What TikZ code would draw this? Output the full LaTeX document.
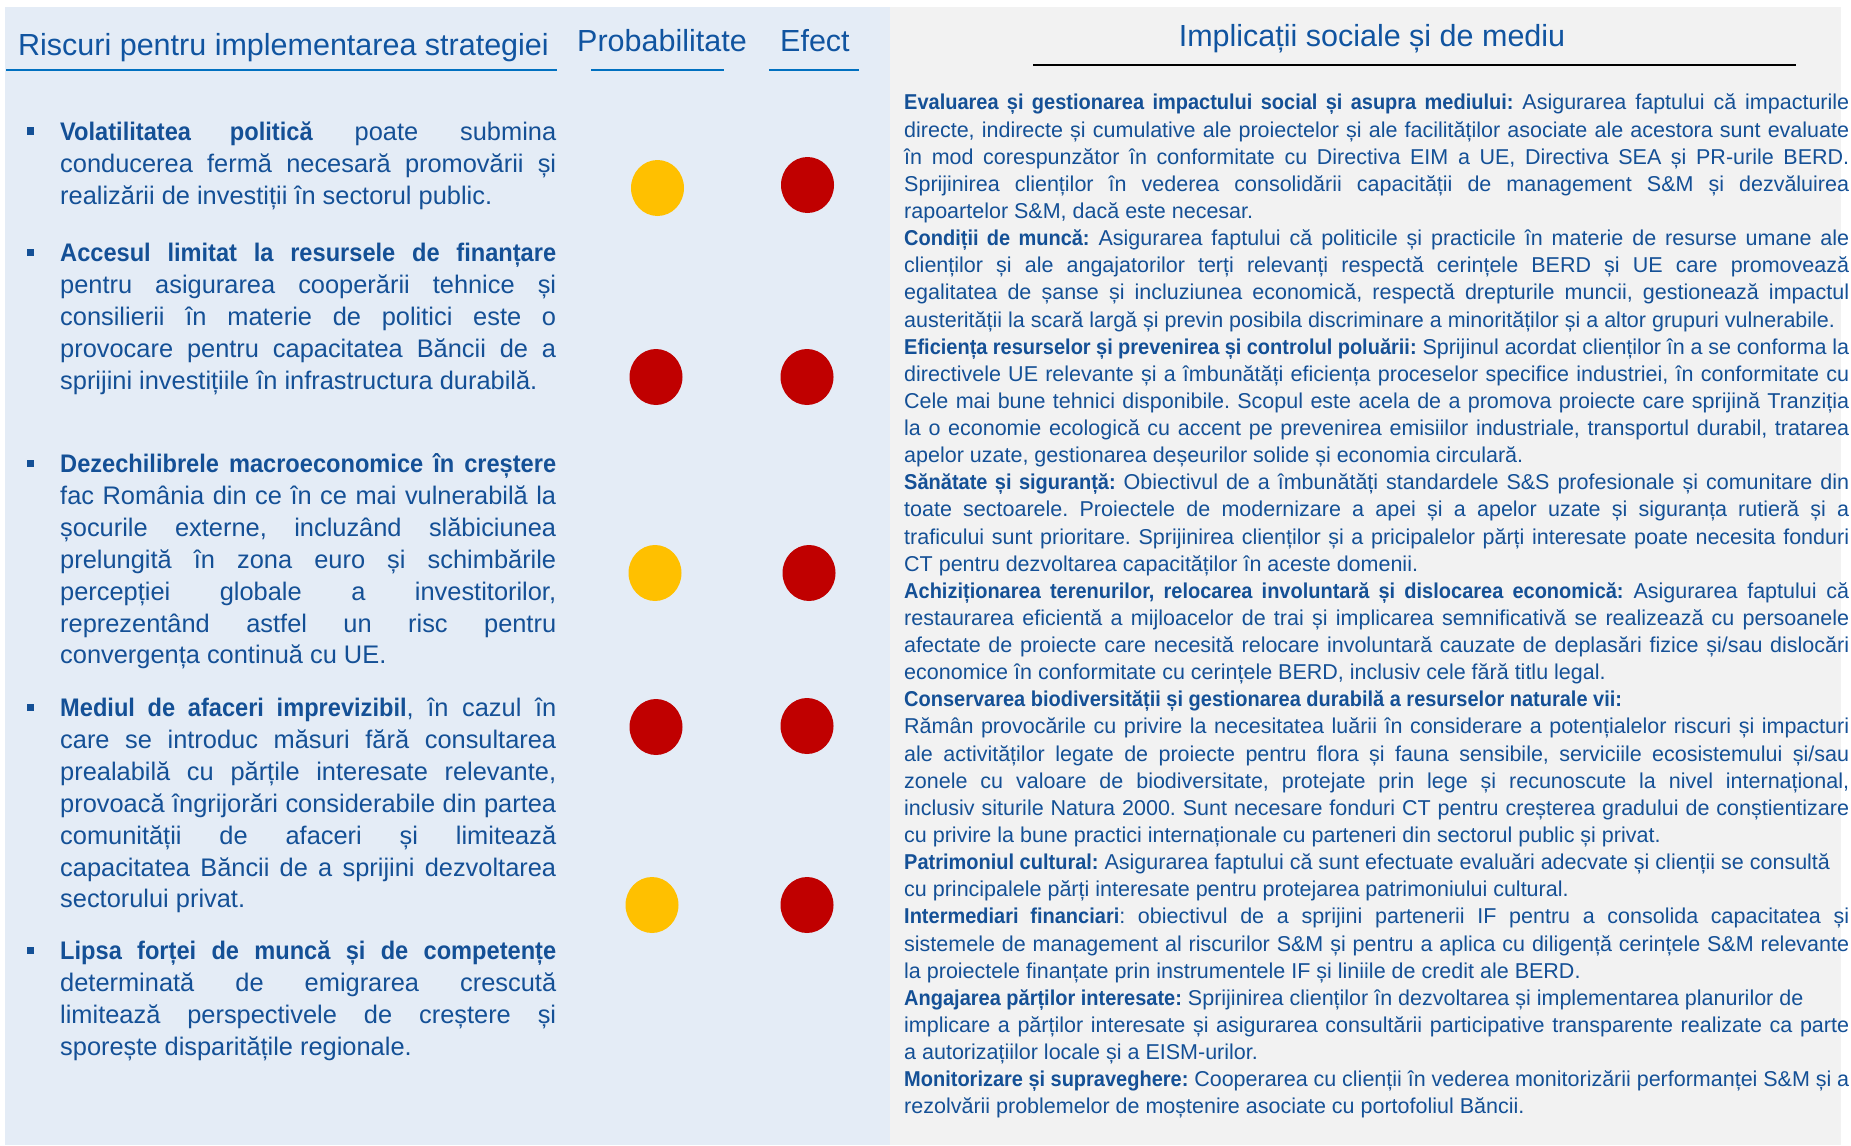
\documentclass[tikz,border=0pt]{standalone}
\usepackage{fontspec}
\setmainfont{Liberation Sans}[BoldFeatures={FakeStretch=0.93}]
\usetikzlibrary{shapes.geometric}
\definecolor{txtblue}{RGB}{20,80,150}
\definecolor{ttlblue}{RGB}{16,84,160}
\definecolor{lineblue}{RGB}{0,112,192}
\definecolor{panelblue}{RGB}{228,236,246}
\definecolor{panelgrey}{RGB}{242,242,242}
\definecolor{dotyellow}{RGB}{255,192,0}
\definecolor{dotred}{RGB}{192,0,0}
\tolerance=10000 \pretolerance=-1 \hyphenpenalty=10000 \exhyphenpenalty=10000
\frenchspacing
\begin{document}
\begin{tikzpicture}[x=1pt,y=-1pt,
 ttl/.style={anchor=base west, inner sep=0pt, text=ttlblue, font=\fontsize{30.5}{36}\selectfont},
 lefttext/.style={anchor=base west, inner sep=0pt, text width=496pt, align=justify, text=txtblue, font=\fontsize{25.4}{31.9}\selectfont},
 righttext/.style={anchor=base west, inner sep=0pt, text width=945pt, align=justify, text=txtblue, font=\fontsize{21.5}{27.13}\selectfont},
 bul/.style={fill=txtblue, minimum size=7pt, inner sep=0pt, draw=none},
 dotY/.style={ellipse, fill=dotyellow, minimum width=53pt, minimum height=56pt, inner sep=0pt},
 dotR/.style={ellipse, fill=dotred, minimum width=53pt, minimum height=56pt, inner sep=0pt},
 uline/.style={draw=lineblue, line width=2pt},
 kline/.style={draw=black, line width=2pt}
]
\useasboundingbox (0,0) rectangle (1851,1145);
\fill[panelblue] (5,7) rectangle (890,1145);
\fill[panelgrey] (890,7) rectangle (1841,1145);

% headers
\node[ttl] (hrisc) at (18,56) {Riscuri pentru implementarea strategiei};
\node[ttl] (hprob) at (577,52) {Probabilitate};
\node[ttl] (hefect) at (780,52) {Efect};
\draw[uline] (6,70) -- (557,70);
\draw[uline] (591,70) -- (724,70);
\draw[uline] (769,70) -- (859,70);

\node[ttl, anchor=base] (himpl) at (1372,47) {Implicații sociale și de mediu};
\draw[kline] (1033,65) -- (1796,65);

% left bullets
\node[bul] (b1) at (30,131) {};
\node[lefttext] (t1) at (60,140.5) {\textbf{Volatilitatea politică} poate submina \linebreak conducerea fermă necesară promovării și \linebreak realizării de investiții în sectorul public.};
\node[bul] (b2) at (30,252) {};
\node[lefttext] (t2) at (60,261.7) {\textbf{Accesul limitat la resursele de finanțare} \linebreak pentru asigurarea cooperării tehnice și \linebreak consilierii în materie de politici este o \linebreak provocare pentru capacitatea Băncii de a \linebreak sprijini investițiile în infrastructura durabilă.};
\node[bul] (b3) at (30,463) {};
\node[lefttext] (t3) at (60,472.5) {\textbf{Dezechilibrele macroeconomice în creștere} \linebreak fac România din ce în ce mai vulnerabilă la \linebreak șocurile externe, incluzând slăbiciunea \linebreak prelungită în zona euro și schimbările \linebreak percepției globale a investitorilor, \linebreak reprezentând astfel un risc pentru \linebreak convergența continuă cu UE.};
\node[bul] (b4) at (30,707) {};
\node[lefttext] (t4) at (60,716.5) {\textbf{Mediul de afaceri imprevizibil}, în cazul în \linebreak care se introduc măsuri fără consultarea \linebreak prealabilă cu părțile interesate relevante, \linebreak provoacă îngrijorări considerabile din partea \linebreak comunității de afaceri și limitează \linebreak capacitatea Băncii de a sprijini dezvoltarea \linebreak sectorului privat.};
\node[bul] (b5) at (30,950) {};
\node[lefttext] (t5) at (60,959.5) {\textbf{Lipsa forței de muncă și de competențe} \linebreak determinată de emigrarea crescută \linebreak limitează perspectivele de creștere și \linebreak sporește disparitățile regionale.};

% rating dots
\node[dotY] (p1) at (657.5,188) {};
\node[dotR] (e1) at (807.5,185) {};
\node[dotR] (p2) at (656,377) {};
\node[dotR] (e2) at (807,377) {};
\node[dotY] (p3) at (655,573) {};
\node[dotR] (e3) at (809,573) {};
\node[dotR] (p4) at (656,727) {};
\node[dotR] (e4) at (807,726) {};
\node[dotY] (p5) at (652,905) {};
\node[dotR] (e5) at (807,905) {};

% right text
\node[righttext] (rt) at (904,110) {%
\textbf{Evaluarea și gestionarea impactului social și asupra mediului:} Asigurarea faptului că impacturile \linebreak directe, indirecte și cumulative ale proiectelor și ale facilităților asociate ale acestora sunt evaluate \linebreak în mod corespunzător în conformitate cu Directiva EIM a UE, Directiva SEA și PR-urile BERD. \linebreak Sprijinirea clienților în vederea consolidării capacității de management S\&M și dezvăluirea \linebreak rapoartelor S\&M, dacă este necesar.\par
\textbf{Condiții de muncă:} Asigurarea faptului că politicile și practicile în materie de resurse umane ale \linebreak clienților și ale angajatorilor terți relevanți respectă cerințele BERD și UE care promovează \linebreak egalitatea de șanse și incluziunea economică, respectă drepturile muncii, gestionează impactul \linebreak austerității la scară largă și previn posibila discriminare a minorităților și a altor grupuri vulnerabile.\par
\textbf{Eficiența resurselor și prevenirea și controlul poluării:} Sprijinul acordat clienților în a se conforma la \linebreak directivele UE relevante și a îmbunătăți eficiența proceselor specifice industriei, în conformitate cu \linebreak Cele mai bune tehnici disponibile. Scopul este acela de a promova proiecte care sprijină Tranziția \linebreak la o economie ecologică cu accent pe prevenirea emisiilor industriale, transportul durabil, tratarea \linebreak apelor uzate, gestionarea deșeurilor solide și economia circulară.\par
\textbf{Sănătate și siguranță:} Obiectivul de a îmbunătăți standardele S\&S profesionale și comunitare din \linebreak toate sectoarele. Proiectele de modernizare a apei și a apelor uzate și siguranța rutieră și a \linebreak traficului sunt prioritare. Sprijinirea clienților și a pricipalelor părți interesate poate necesita fonduri \linebreak CT pentru dezvoltarea capacităților în aceste domenii.\par
\textbf{Achiziționarea terenurilor, relocarea involuntară și dislocarea economică:} Asigurarea faptului că \linebreak restaurarea eficientă a mijloacelor de trai și implicarea semnificativă se realizează cu persoanele \linebreak afectate de proiecte care necesită relocare involuntară cauzate de deplasări fizice și/sau dislocări \linebreak economice în conformitate cu cerințele BERD, inclusiv cele fără titlu legal.\par
\textbf{Conservarea biodiversității și gestionarea durabilă a resurselor naturale vii:}\hfill\break
Rămân provocările cu privire la necesitatea luării în considerare a potențialelor riscuri și impacturi \linebreak ale activităților legate de proiecte pentru flora și fauna sensibile, serviciile ecosistemului și/sau \linebreak zonele cu valoare de biodiversitate, protejate prin lege și recunoscute la nivel internațional, \linebreak inclusiv siturile Natura 2000. Sunt necesare fonduri CT pentru creșterea gradului de conștientizare \linebreak cu privire la bune practici internaționale cu parteneri din sectorul public și privat.\par
\textbf{Patrimoniul cultural:} Asigurarea faptului că sunt efectuate evaluări adecvate și clienții se consultă\hfill\break
cu principalele părți interesate pentru protejarea patrimoniului cultural.\par
\textbf{Intermediari financiari}: obiectivul de a sprijini partenerii IF pentru a consolida capacitatea și \linebreak sistemele de management al riscurilor S\&M și pentru a aplica cu diligență cerințele S\&M relevante \linebreak la proiectele finanțate prin instrumentele IF și liniile de credit ale BERD.\par
\textbf{Angajarea părților interesate:} Sprijinirea clienților în dezvoltarea și implementarea planurilor de\hfill\break
implicare a părților interesate și asigurarea consultării participative transparente realizate ca parte \linebreak a autorizațiilor locale și a EISM-urilor.\par
\textbf{Monitorizare și supraveghere:} Cooperarea cu clienții în vederea monitorizării performanței S\&M și a \linebreak rezolvării problemelor de moștenire asociate cu portofoliul Băncii.};
\end{tikzpicture}
\end{document}
